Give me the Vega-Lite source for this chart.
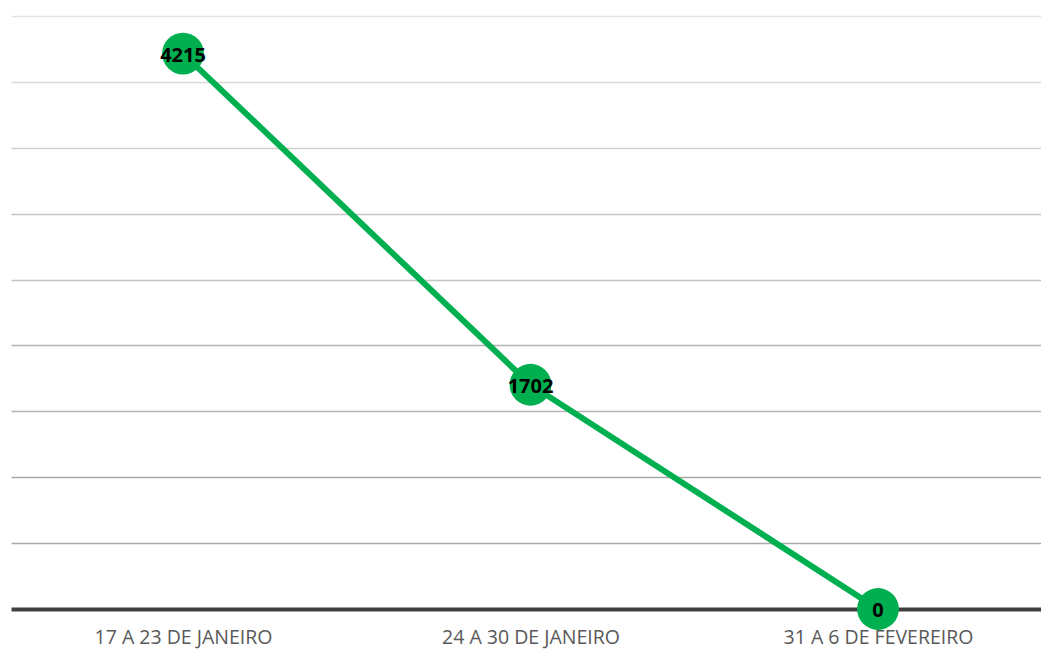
{
  "$schema": "https://vega.github.io/schema/vega-lite/v6.json",
  "width": 1039,
  "height": 593,
  "autosize": {"type": "none"},
  "padding": {"left": 11, "top": 16, "right": 0, "bottom": 42},
  "background": "white",
  "config": {"view": {"stroke": null}},
  "data": {"values": [
    {"periodo": "17 A 23 DE JANEIRO", "casos": 4215},
    {"periodo": "24 A 30 DE JANEIRO", "casos": 1702},
    {"periodo": "31 A 6 DE FEVEREIRO", "casos": 0}
  ]},
  "encoding": {
    "x": {"field": "periodo", "type": "nominal", "sort": null,
      "scale": {"type": "point", "padding": 0.495},
      "axis": {"title": null, "labelAngle": 0, "ticks": false, "grid": false,
        "domainColor": "#404040", "domainWidth": 4, "labelPadding": 19, "labelLimit": 0,
        "labelFont": "Open Sans", "labelFontSize": 19.5, "labelColor": "#595959"}},
    "y": {"field": "casos", "type": "quantitative",
      "scale": {"domain": [0, 4500], "nice": false},
      "axis": {"title": null, "labels": false, "ticks": false, "domain": false,
        "values": [500, 1000, 1500, 2000, 2500, 3000, 3500, 4000, 4500],
        "gridWidth": 1.5,
        "gridColor": {"condition": [
          {"test": "datum.value <= 1000", "value": "#a9a9a9"},
          {"test": "datum.value <= 2000", "value": "#b4b4b4"},
          {"test": "datum.value <= 3000", "value": "#c4c4c4"},
          {"test": "datum.value <= 3500", "value": "#d0d0d0"},
          {"test": "datum.value <= 4000", "value": "#d9d9d9"}
        ], "value": "#e2e2e2"}}}
  },
  "layer": [
    {"mark": {"type": "line", "color": "#00b050", "strokeWidth": 6}},
    {"mark": {"type": "circle", "color": "#00b050", "opacity": 1, "size": 1750}},
    {"mark": {"type": "text", "font": "Open Sans", "fontWeight": "bold", "fontSize": 20, "color": "black", "baseline": "middle", "align": "center", "dy": 2},
      "encoding": {"text": {"field": "casos", "type": "quantitative", "format": "d"}}}
  ]
}
